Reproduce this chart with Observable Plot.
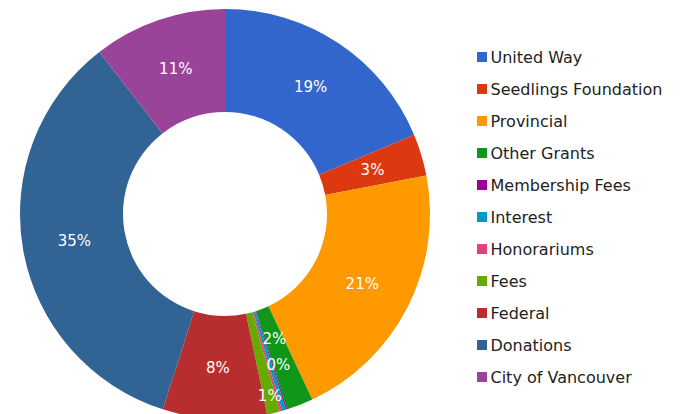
<!DOCTYPE html>
<html>
<head>
<meta charset="utf-8">
<script src="https://cdn.jsdelivr.net/npm/d3@7"></script>
<script src="https://cdn.jsdelivr.net/npm/@observablehq/plot@0.6"></script>
<style>
  html, body { margin: 0; padding: 0; background: #fff; }
</style>
</head>
<body>
<div id="chart"></div>
<script>
// ---- data ----
const categories = ["United Way", "Seedlings Foundation", "Provincial", "Other Grants", "Membership Fees", "Interest", "Honorariums", "Fees", "Federal", "Donations", "City of Vancouver"];
const values = [18.7, 3.3, 21.0, 2.1, 0.1, 0.3, 0.2, 1.0, 8.2, 34.6, 10.5];
const sliceLabels = ["19%", "3%", "21%", "2%", "", "0%", "", "1%", "8%", "35%", "11%"];
const colors = ["#3366CC", "#DC3912", "#FF9900", "#109618", "#990099", "#0099C6", "#DD4477", "#66AA00", "#B82E2E", "#316395", "#994499"];

// ---- layout ----
const W = 680, H = 414;
const cx = 225, cy = 214, R = 205, R0 = 102;
const FONT = "DejaVu Sans";

const data = categories.map((name, i) => ({name, value: values[i], label: sliceLabels[i]}));
const arcs = d3.pie().sort(null).value(d => d.value)(data);
const arcGen = d3.arc().innerRadius(R0).outerRadius(R);

// label radius: centroid of the ring, staggered for the crowded small slices
const midR = (R + R0) / 2;
const labelRadius = {"Other Grants": 134, "Interest": 160, "Fees": 187};
const labelAngleShift = {"Interest": -0.045};
const labelRows = arcs.filter(a => a.data.label).map(a => {
  const ang = (a.startAngle + a.endAngle) / 2 + (labelAngleShift[a.data.name] || 0);
  const rr = labelRadius[a.data.name] || midR;
  return {label: a.data.label, x: cx + Math.sin(ang) * rr, y: cy - Math.cos(ang) * rr};
});

const legendX = 477, legendY0 = 57, legendStep = 32.0, sw = 10;

function donut(index, scales) {
  const g = d3.create("svg:g")
    .attr("transform", `translate(${scales.x(cx)},${scales.y(cy)})`);
  g.selectAll("path")
    .data(arcs)
    .join("path")
    .attr("d", arcGen)
    .attr("fill", d => scales.color(d.data.name));
  return g.node();
}

const chart = Plot.plot({
  width: W,
  height: H,
  margin: 0,
  x: {type: "identity", axis: null},
  y: {type: "identity", axis: null},
  color: {domain: categories, range: colors},
  style: {fontFamily: FONT, background: "#fff"},
  marks: [
    donut,
    Plot.text(labelRows, {x: "x", y: "y", text: "label", fill: "white", fontSize: 15, fontFamily: FONT}),
    Plot.rect(categories, {
      x1: legendX, x2: legendX + sw,
      y1: (d, i) => legendY0 + legendStep * i - sw / 2,
      y2: (d, i) => legendY0 + legendStep * i + sw / 2,
      fill: d => d
    }),
    Plot.text(categories, {
      x: legendX + sw + 3,
      y: (d, i) => legendY0 + legendStep * i,
      text: d => d,
      textAnchor: "start",
      fill: "#222",
      fontSize: 16,
      fontFamily: FONT
    })
  ]
});
document.getElementById("chart").appendChild(chart);
</script>
</body>
</html>
